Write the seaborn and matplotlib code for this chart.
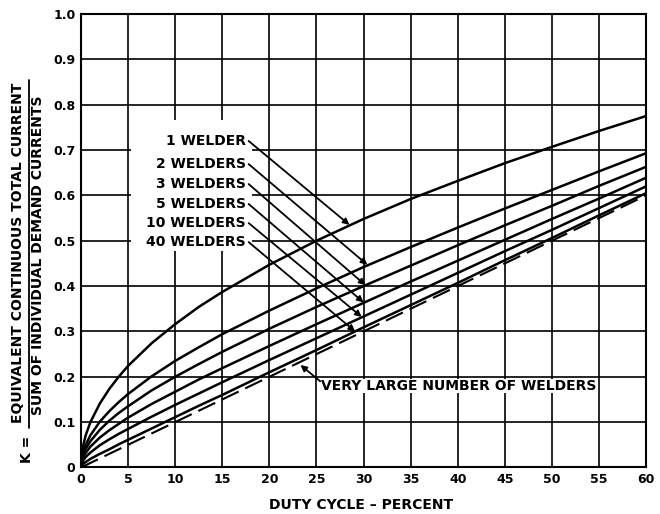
import matplotlib
matplotlib.use("Agg")
import matplotlib.pyplot as plt
import pandas as pd
import seaborn as sns
from matplotlib.patches import Rectangle
from matplotlib.lines import Line2D

# duty cycle (percent) and K values
DUTY = [0, 0.25, 0.5, 1, 2, 3, 4, 5, 7.5, 10, 12.5, 15, 20, 25, 30, 35, 40, 45, 50, 55, 60]
K_1 = [0, 0.050, 0.071, 0.100, 0.141, 0.173, 0.200, 0.224, 0.274, 0.316, 0.354, 0.387, 0.447,
       0.500, 0.548, 0.592, 0.632, 0.671, 0.707, 0.742, 0.775]
K_2 = [0, 0.035, 0.050, 0.071, 0.101, 0.124, 0.144, 0.162, 0.201, 0.235, 0.265, 0.294, 0.346,
       0.395, 0.442, 0.486, 0.529, 0.571, 0.612, 0.653, 0.693]
K_3 = [0, 0.029, 0.041, 0.058, 0.083, 0.103, 0.120, 0.135, 0.170, 0.200, 0.228, 0.255, 0.306,
       0.354, 0.400, 0.445, 0.490, 0.534, 0.577, 0.621, 0.663]
K_5 = [0, 0.023, 0.032, 0.046, 0.066, 0.082, 0.096, 0.110, 0.140, 0.167, 0.194, 0.219, 0.268,
       0.316, 0.363, 0.410, 0.456, 0.502, 0.548, 0.593, 0.639]
K_10 = [0, 0.016, 0.023, 0.033, 0.049, 0.062, 0.074, 0.085, 0.112, 0.138, 0.163, 0.188, 0.237,
        0.285, 0.333, 0.381, 0.429, 0.477, 0.524, 0.572, 0.620]
K_40 = [0, 0.008, 0.012, 0.019, 0.030, 0.040, 0.051, 0.061, 0.086, 0.111, 0.136, 0.160, 0.210,
        0.259, 0.309, 0.358, 0.407, 0.457, 0.506, 0.556, 0.605]

# very large number of welders (dashed)
LARGE_DUTY = [0, 60]
LARGE_K = [0, 0.60]

CURVE_LABELS = ["1 WELDER", "2 WELDERS", "3 WELDERS", "5 WELDERS", "10 WELDERS", "40 WELDERS"]
LABEL_Y = [0.720, 0.669, 0.625, 0.581, 0.539, 0.497]
ARROW_TIP_X = [28.5, 30.4, 30.2, 30.0, 29.8, 29.1]
ARROW_TIP_Y = [0.535, 0.447, 0.402, 0.364, 0.332, 0.300]

X_TICKS = list(range(0, 61, 5))
Y_TICKS = [0, 0.1, 0.2, 0.3, 0.4, 0.5, 0.6, 0.7, 0.8, 0.9, 1.0]
Y_TICK_LABELS = ["0", "0.1", "0.2", "0.3", "0.4", "0.5", "0.6", "0.7", "0.8", "0.9", "1.0"]

sns.set_style("white")
plt.rcParams["font.family"] = "DejaVu Sans"
plt.rcParams["text.color"] = "black"
plt.rcParams["xtick.color"] = "black"
plt.rcParams["ytick.color"] = "black"

df = pd.concat([
    pd.DataFrame({"duty": DUTY, "k": vals, "welders": name})
    for name, vals in zip(CURVE_LABELS, [K_1, K_2, K_3, K_5, K_10, K_40])
])

fig = plt.figure(figsize=(6.6, 5.14), dpi=100)
ax = fig.add_axes([0.1227, 0.0905, 0.979 - 0.1227, 0.9728 - 0.0905])

sns.lineplot(data=df, x="duty", y="k", units="welders", estimator=None, sort=False,
             color="black", lw=1.8, ax=ax, zorder=2)
sns.lineplot(x=LARGE_DUTY, y=LARGE_K, color="black", lw=1.5, dashes=False, ax=ax, zorder=2)
ax.lines[-1].set_dashes((9, 3.5))

ax.set_xlim(0, 60)
ax.set_ylim(0, 1.0)
ax.set_xticks(X_TICKS)
ax.set_yticks(Y_TICKS)
ax.set_yticklabels(Y_TICK_LABELS)
ax.set_axisbelow(True)
ax.grid(True, color="black", lw=1.2)
ax.tick_params(length=0, pad=4, labelsize=9, colors="black")
for lab in ax.get_xticklabels() + ax.get_yticklabels():
    lab.set_fontweight("bold")
for sp in ax.spines.values():
    sp.set_color("black")
    sp.set_linewidth(1.5)
ax.set_xlabel("")
ax.set_ylabel("")

# white area behind the curve labels
ax.add_patch(Rectangle((5.3, 0.478), 12.9, 0.288, fc="white", ec="none", zorder=1))

for lab, ly, tx, ty in zip(CURVE_LABELS, LABEL_Y, ARROW_TIP_X, ARROW_TIP_Y):
    ax.text(17.5, ly, lab, ha="right", va="center", fontsize=10, fontweight="bold",
            color="black", zorder=3)
    ax.annotate("", xy=(tx, ty), xytext=(17.8, ly),
                arrowprops=dict(arrowstyle="-|>", color="black", lw=1.3,
                                mutation_scale=9, shrinkA=0, shrinkB=0), zorder=3)

ax.text(25.5, 0.180, "VERY LARGE NUMBER OF WELDERS", ha="left", va="center",
        fontsize=10, fontweight="bold", color="black", zorder=1.5,
        bbox=dict(fc="white", ec="none", pad=0.2))
ax.annotate("", xy=(23.3, 0.226), xytext=(25.4, 0.19),
            arrowprops=dict(arrowstyle="-|>", color="black", lw=1.3,
                            mutation_scale=9, shrinkA=0, shrinkB=0), zorder=3)

# axis titles
fig.text(361 / 660, 1 - 505 / 514, "DUTY CYCLE – PERCENT", ha="center", va="center",
         fontsize=10, fontweight="bold", color="black")
fig.text(27 / 660, 1 - 449 / 514, "K =", rotation=90, ha="center", va="center",
         fontsize=10, fontweight="bold", color="black")
fig.text(18 / 660, 1 - 253 / 514, "EQUIVALENT CONTINUOUS TOTAL CURRENT", rotation=90,
         ha="center", va="center", fontsize=10, fontweight="bold", color="black")
fig.text(38.5 / 660, 1 - 255 / 514, "SUM OF INDIVIDUAL DEMAND CURRENTS", rotation=90,
         ha="center", va="center", fontsize=10, fontweight="bold", color="black")
fig.add_artist(Line2D([29 / 660, 29 / 660], [1 - 80 / 514, 1 - 428 / 514],
                      transform=fig.transFigure, color="black", lw=1.3))

fig.savefig("out.png", dpi=100)
